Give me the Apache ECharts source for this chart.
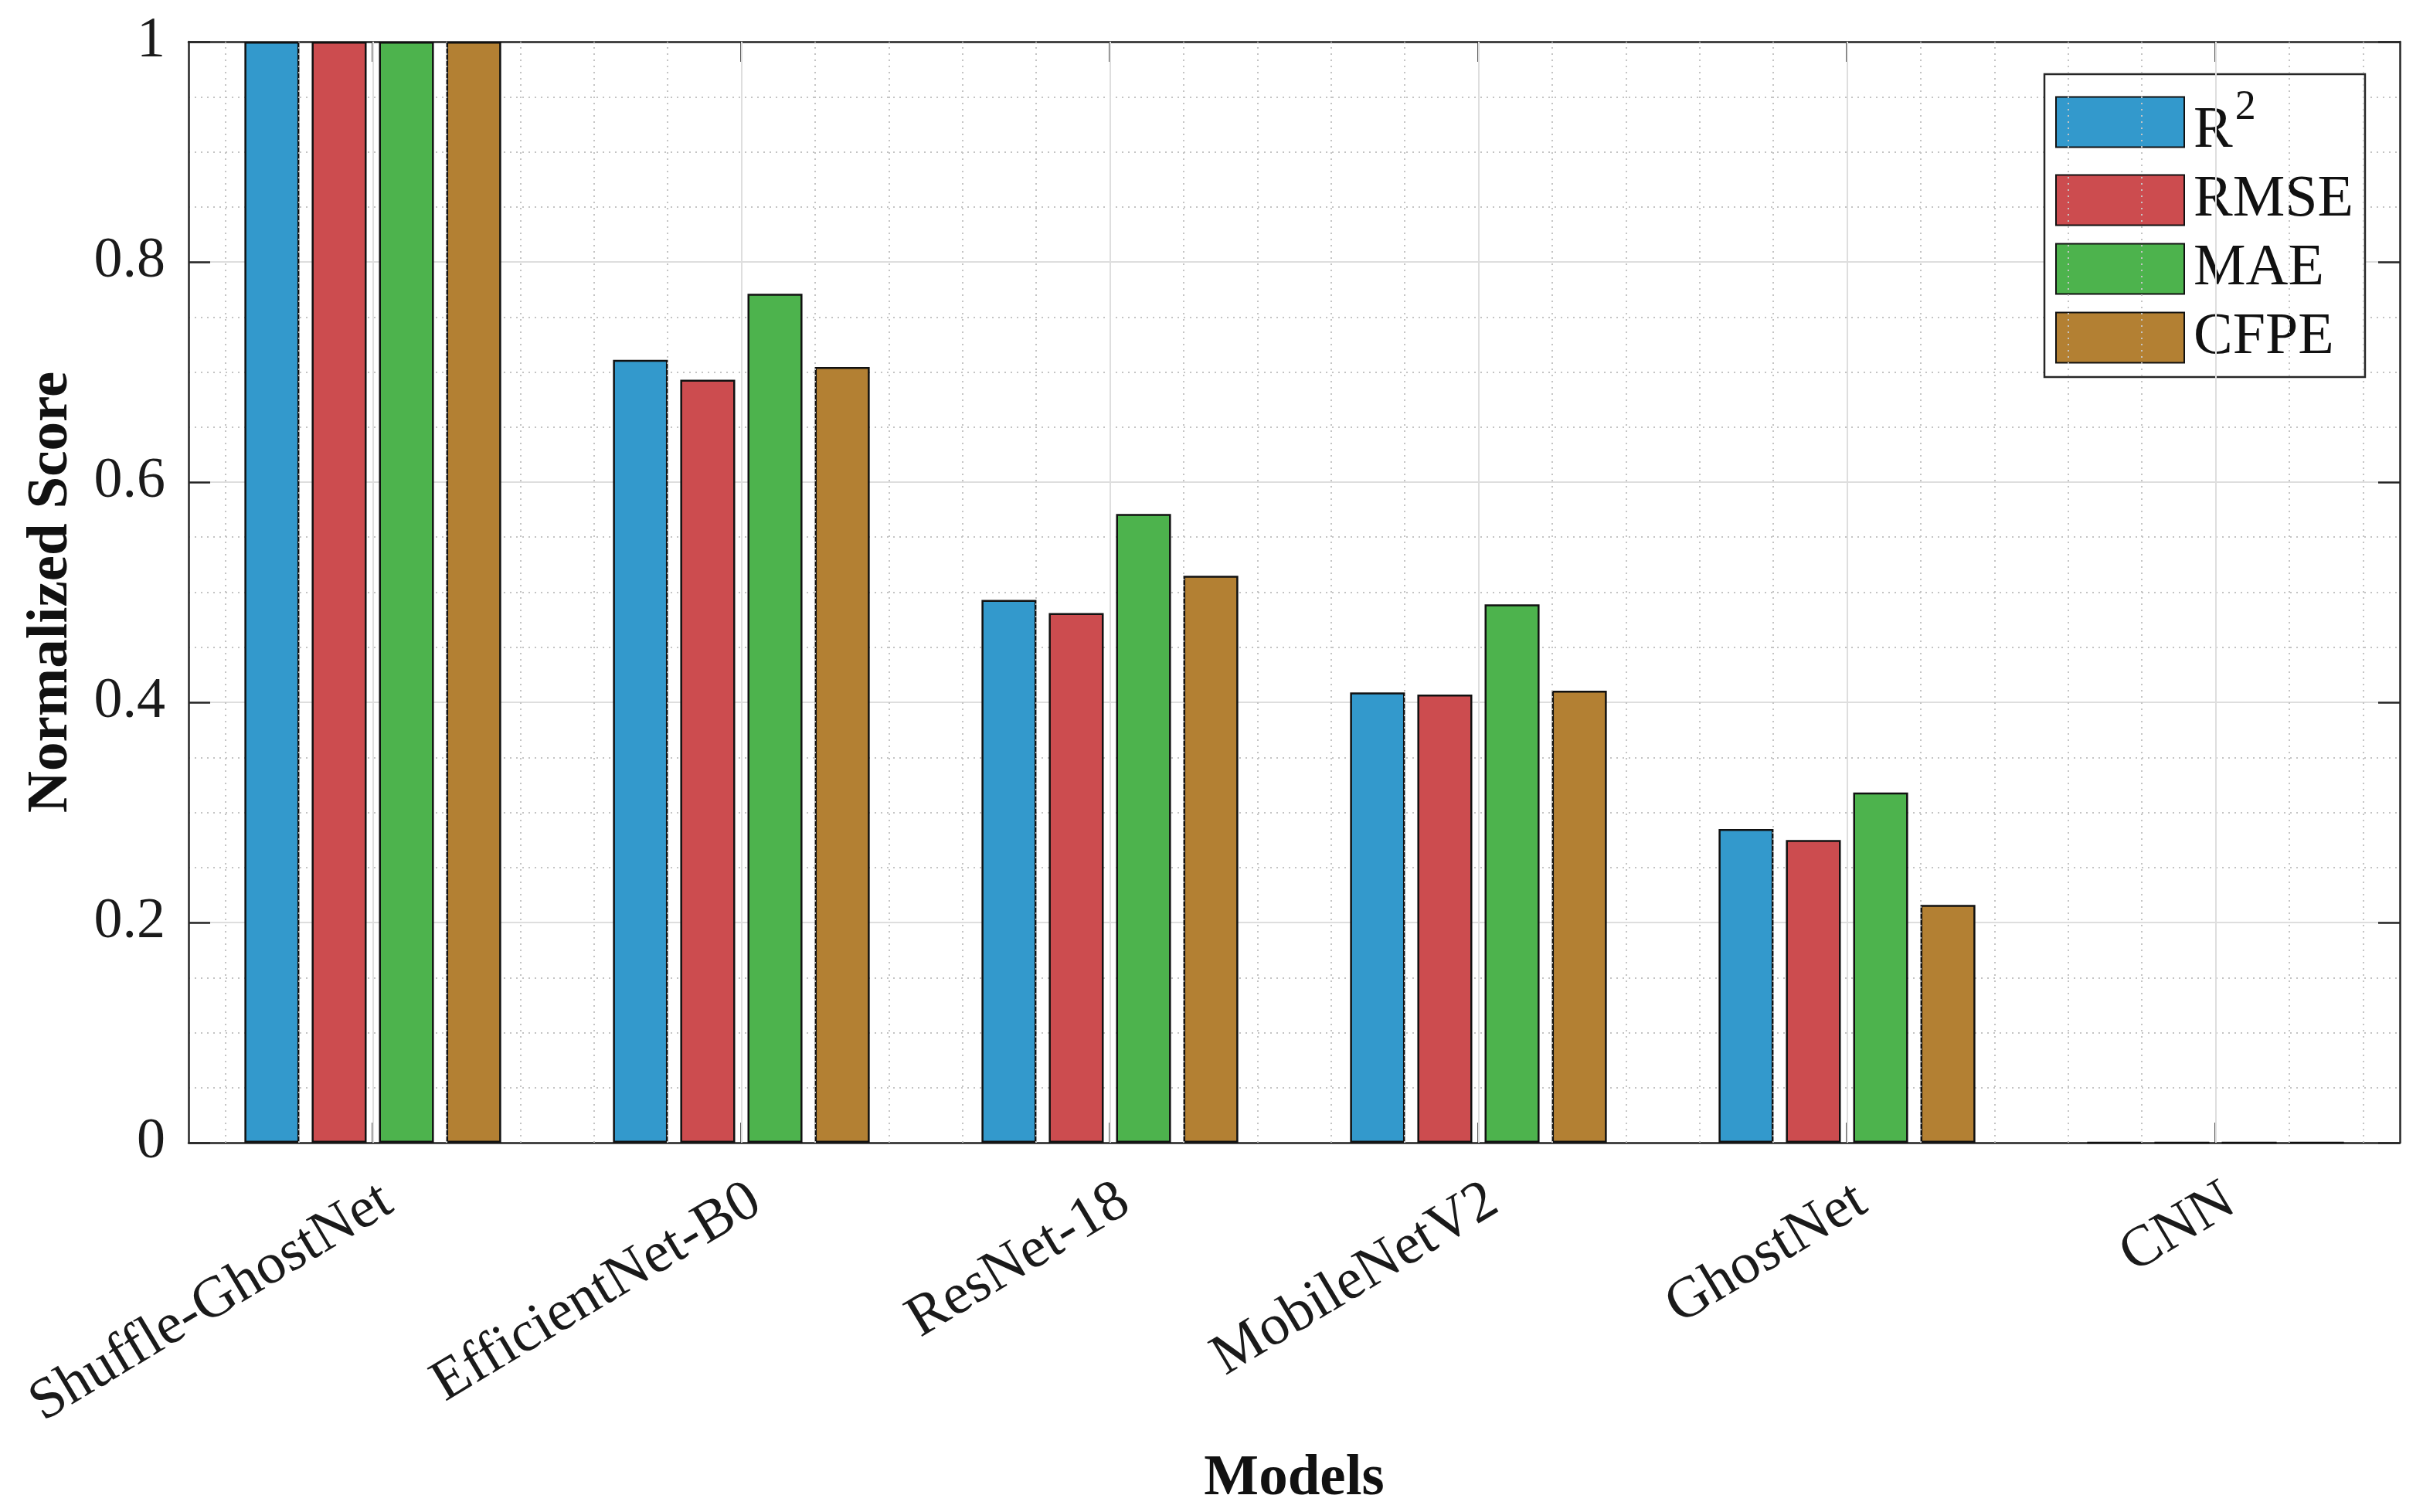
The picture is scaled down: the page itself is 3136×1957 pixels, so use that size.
<!DOCTYPE html>
<html>
<head>
<meta charset="utf-8">
<script src="https://cdn.jsdelivr.net/npm/echarts@6/dist/echarts.min.js"></script>
<style>
html,body{margin:0;padding:0;background:#fff;}
#chart{width:3136px;height:1957px;}
</style>
</head>
<body>
<div id="chart"></div>
<script>
const categories = ['Shuffle-GhostNet', 'EfficientNet-B0', 'ResNet-18', 'MobileNetV2', 'GhostNet', 'CNN'];
const seriesNames = ['R2', 'RMSE', 'MAE', 'CFPE'];
const r2Values   = [1, 0.711, 0.493, 0.409, 0.285, 0];
const rmseValues = [1, 0.693, 0.481, 0.407, 0.275, 0];
const maeValues  = [1, 0.771, 0.571, 0.489, 0.318, 0];
const cfpeValues = [1, 0.7045, 0.515, 0.4105, 0.216, 0];
const yTickValues = [0, 0.2, 0.4, 0.6, 0.8, 1];

const colors = ['#3399cc', '#cc4c4f', '#4db34d', '#b38033'];
const FONT = 'Liberation Serif';
const AXIS_COLOR = '#262626';

// vertical grid positions (category index scale, categories at 1..n)
const majorX = categories.map((c, i) => i + 1);
const minorX = [];
for (let i = 0; i < categories.length; i++) {
  [-0.4, -0.2, 0.2, 0.4].forEach(d => minorX.push(+(i + 1 + d).toFixed(2)));
}

const chart = echarts.init(document.getElementById('chart'));

const valuesList = [r2Values, rmseValues, maeValues, cfpeValues];
const barSeries = seriesNames.map((name, k) => ({
  name: name,
  type: 'bar',
  xAxisIndex: 0,
  yAxisIndex: 0,
  data: valuesList[k],
  barWidth: '14.9%',
  barGap: '22.5%',
  itemStyle: { color: colors[k], borderColor: '#111', borderWidth: 2.5 },
  z: 3,
  animation: false
}));

const gridSeries = {
  name: '_grid',
  type: 'line',
  xAxisIndex: 2,
  yAxisIndex: 0,
  data: [[1, 0]],
  symbol: 'none',
  lineStyle: { opacity: 0 },
  silent: true,
  z: 1,
  animation: false,
  markLine: {
    silent: true,
    symbol: ['none', 'none'],
    label: { show: false },
    animation: false,
    data: majorX.map(v => ({ xAxis: v, lineStyle: { color: '#dedede', width: 2, type: 'solid' } }))
      .concat(minorX.map(v => ({ xAxis: v, lineStyle: { color: '#c4c4c4', width: 2, type: [2, 6] } })))
  }
};

const option = {
  backgroundColor: '#ffffff',
  textStyle: { fontFamily: FONT },
  grid: { left: 244, right: 30, top: 54, bottom: 471, containLabel: false },
  legend: {
    data: seriesNames,
    orient: 'vertical',
    left: 2646,
    top: 96,
    backgroundColor: '#ffffff',
    borderColor: AXIS_COLOR,
    borderWidth: 2.5,
    padding: [12, 15, 13, 14],
    itemWidth: 166,
    itemHeight: 65,
    itemGap: 13,
    icon: 'rect',
    selectedMode: false,
    formatter: function (name) {
      if (name === 'R2') return '{r|R}{s|2}';
      return name;
    },
    textStyle: {
      fontFamily: FONT,
      fontSize: 76,
      lineHeight: 65,
      color: '#111',
      padding: [0, 0, 0, 7],
      rich: {
        r: { fontFamily: FONT, fontSize: 76, color: '#111', lineHeight: 55, padding: [24, 0, 0, 0] },
        s: { fontFamily: FONT, fontSize: 54, color: '#111', lineHeight: 43, padding: [0, 0, 36, 3] }
      }
    }
  },
  xAxis: [
    {
      type: 'category',
      data: categories,
      position: 'bottom',
      boundaryGap: true,
      name: 'Models',
      nameLocation: 'middle',
      nameGap: 398,
      nameTextStyle: { fontFamily: FONT, fontSize: 75, fontWeight: 'bold', color: '#111' },
      axisLine: { show: true, onZero: false, lineStyle: { color: AXIS_COLOR, width: 2.5 } },
      axisTick: { show: true, inside: true, alignWithLabel: true, length: 26, lineStyle: { color: AXIS_COLOR, width: 2.5 } },
      axisLabel: {
        show: true, rotate: 31, margin: 38, align: 'right', verticalAlign: 'top',
        fontFamily: FONT, fontSize: 75, color: '#1a1a1a', interval: 0
      },
      splitLine: { show: false }
    },
    {
      type: 'category',
      data: categories,
      position: 'top',
      boundaryGap: true,
      axisLine: { show: true, onZero: false, lineStyle: { color: AXIS_COLOR, width: 2.5 } },
      axisTick: { show: true, inside: true, alignWithLabel: true, length: 26, lineStyle: { color: AXIS_COLOR, width: 2.5 } },
      axisLabel: { show: false },
      splitLine: { show: false }
    },
    {
      type: 'value',
      min: 0.5,
      max: 6.5,
      show: false,
      splitLine: { show: false }
    }
  ],
  yAxis: [
    {
      type: 'value',
      min: 0,
      max: 1,
      interval: 0.2,
      position: 'left',
      name: 'Normalized Score',
      nameLocation: 'middle',
      nameGap: 140,
      nameTextStyle: { fontFamily: FONT, fontSize: 75, fontWeight: 'bold', color: '#111' },
      axisLine: { show: true, onZero: false, lineStyle: { color: AXIS_COLOR, width: 2.5 } },
      axisTick: { show: true, inside: true, length: 28, lineStyle: { color: AXIS_COLOR, width: 2.5 } },
      axisLabel: {
        show: true, margin: 30, fontFamily: FONT, fontSize: 74, color: '#1a1a1a',
        customValues: yTickValues,
        formatter: v => String(+v.toFixed(2))
      },
      splitLine: { show: true, lineStyle: { color: '#dedede', width: 2 } },
      minorTick: { show: false, splitNumber: 4 },
      minorSplitLine: { show: true, lineStyle: { color: '#c4c4c4', width: 2, type: [2, 6] } }
    },
    {
      type: 'value',
      min: 0,
      max: 1,
      interval: 0.2,
      position: 'right',
      axisLine: { show: true, onZero: false, lineStyle: { color: AXIS_COLOR, width: 2.5 } },
      axisTick: { show: true, inside: true, length: 28, lineStyle: { color: AXIS_COLOR, width: 2.5 } },
      axisLabel: { show: false },
      splitLine: { show: false }
    }
  ],
  series: [gridSeries].concat(barSeries)
};

chart.setOption(option);
</script>
</body>
</html>
